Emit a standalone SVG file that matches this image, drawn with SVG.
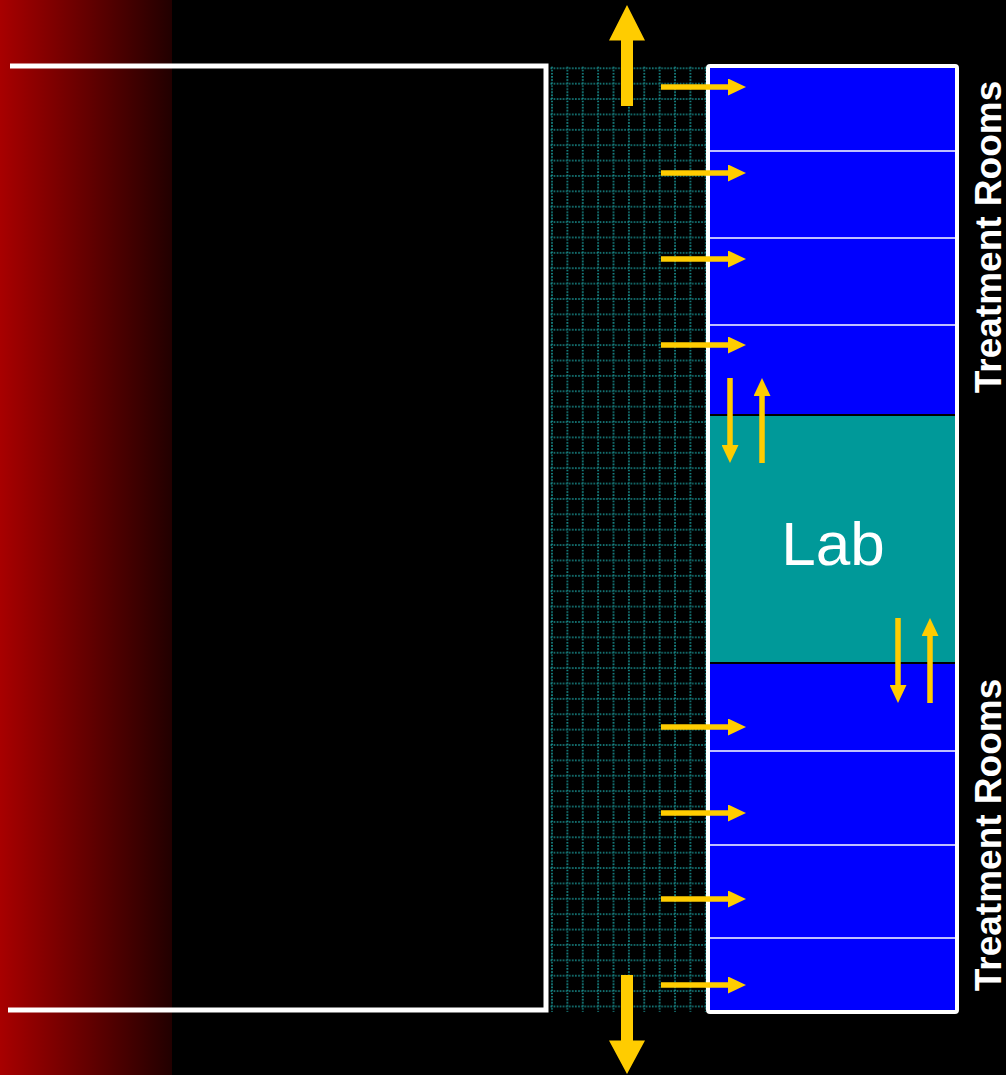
<svg xmlns="http://www.w3.org/2000/svg" width="1006" height="1075" viewBox="0 0 1006 1075">
<defs>
<linearGradient id="red" x1="0" y1="0" x2="1" y2="0">
<stop offset="0" stop-color="#a80000"/>
<stop offset="1" stop-color="#220000"/>
</linearGradient>
<pattern id="grid" x="544.3" y="60.6" width="15.38" height="15.38" patternUnits="userSpaceOnUse">
<line x1="7.7" y1="0" x2="7.7" y2="15.38" class="g"/>
<line x1="0" y1="7.7" x2="15.38" y2="7.7" class="g"/>
</pattern>
<marker id="ah" viewBox="0 0 18 17" refX="0" refY="8.5" markerWidth="18" markerHeight="17" markerUnits="userSpaceOnUse" orient="auto">
<path d="M0,0 L18,8.5 L0,17 Z" fill="#ffcc00"/>
</marker>
</defs>
<style>
.g{stroke:#1a9a9a;stroke-width:1.6;stroke-dasharray:1.6 1.5}
.sm{stroke:#ffcc00;stroke-width:5.5;fill:none;marker-end:url(#ah)}
.big{fill:#ffcc00}
.room{fill:#0000ff}
.div{stroke:#ffffff;stroke-width:1.5}
.blk{stroke:#000000;stroke-width:2}
.lbl{font-family:"Liberation Sans",Arial,sans-serif;fill:#ffffff}
</style>
<rect x="0" y="0" width="1006" height="1075" fill="#000000"/>
<rect id="redzone" x="0" y="0" width="172" height="1075" fill="url(#red)"/>
<g id="corridor">
<rect x="550" y="66" width="156" height="946" fill="url(#grid)"/>
</g>
<g id="bracket">
<path d="M10,66 H546 V1010 H8" fill="none" stroke="#ffffff" stroke-width="5"/>
</g>
<g id="rooms">
<rect x="708" y="66" width="249" height="349" class="room"/>
<rect x="708" y="415" width="249" height="248" fill="#009999"/>
<rect x="708" y="663" width="249" height="349" class="room"/>
<line x1="708" y1="151" x2="957" y2="151" class="div"/>
<line x1="708" y1="238" x2="957" y2="238" class="div"/>
<line x1="708" y1="325" x2="957" y2="325" class="div"/>
<line x1="708" y1="751" x2="957" y2="751" class="div"/>
<line x1="708" y1="845" x2="957" y2="845" class="div"/>
<line x1="708" y1="938" x2="957" y2="938" class="div"/>
<line x1="708" y1="415" x2="957" y2="415" class="blk"/>
<line x1="708" y1="663" x2="957" y2="663" class="blk"/>
<rect x="708" y="66" width="249" height="946" fill="none" stroke="#ffffff" stroke-width="4" rx="2"/>
</g>
<g id="lab">
<text x="833" y="565" class="lbl" font-size="62" text-anchor="middle">Lab</text>
</g>
<g id="label-top">
<text transform="translate(1001,237) rotate(-90)" class="lbl" font-size="37" font-weight="bold" text-anchor="middle">Treatment Rooms</text>
</g>
<g id="label-bottom">
<text transform="translate(1001,835) rotate(-90)" class="lbl" font-size="37" font-weight="bold" text-anchor="middle">Treatment Rooms</text>
</g>
<g id="connectors">
<path class="big" d="M621,106 V40.5 H609 L627,5 L645,40.5 H633 V106 Z"/>
<path class="big" d="M621,975 V1040.5 H609 L627,1074 L645,1040.5 H633 V975 Z"/>
<line x1="661" y1="87" x2="728" y2="87" class="sm"/>
<line x1="661" y1="173" x2="728" y2="173" class="sm"/>
<line x1="661" y1="259" x2="728" y2="259" class="sm"/>
<line x1="661" y1="345" x2="728" y2="345" class="sm"/>
<line x1="661" y1="727" x2="728" y2="727" class="sm"/>
<line x1="661" y1="813" x2="728" y2="813" class="sm"/>
<line x1="661" y1="899" x2="728" y2="899" class="sm"/>
<line x1="661" y1="985" x2="728" y2="985" class="sm"/>
<line x1="730" y1="378" x2="730" y2="445" class="sm"/>
<line x1="762" y1="463" x2="762" y2="396" class="sm"/>
<line x1="898" y1="618" x2="898" y2="685" class="sm"/>
<line x1="930" y1="703" x2="930" y2="636" class="sm"/>
</g>
</svg>
